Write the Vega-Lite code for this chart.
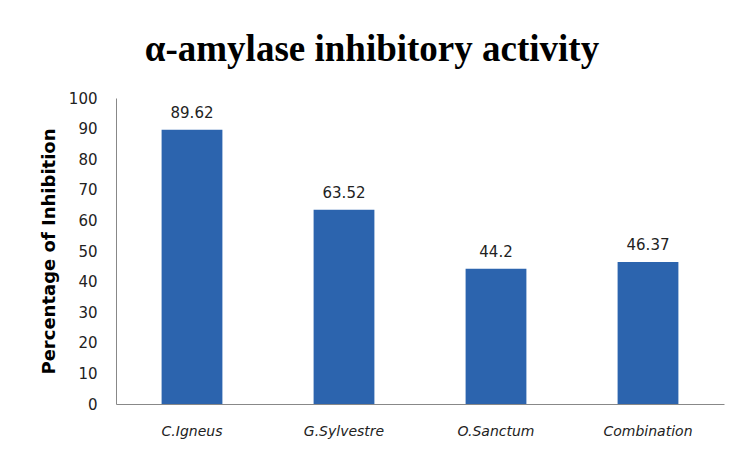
{
  "$schema": "https://vega.github.io/schema/vega-lite/v6.json",
  "autosize": "none",
  "width": 608,
  "height": 306,
  "padding": {"left": 116, "top": 98, "right": 18, "bottom": 48},
  "background": "white",
  "title": {
    "text": "α-amylase inhibitory activity",
    "font": "Liberation Serif",
    "fontSize": 37,
    "fontWeight": "bold",
    "color": "#000000",
    "anchor": "middle",
    "dx": -48,
    "offset": 22
  },
  "data": {
    "values": [
      {"sample": "C.Igneus", "inhibition": 89.62, "label": "89.62"},
      {"sample": "G.Sylvestre", "inhibition": 63.52, "label": "63.52"},
      {"sample": "O.Sanctum", "inhibition": 44.2, "label": "44.2"},
      {"sample": "Combination", "inhibition": 46.37, "label": "46.37"}
    ]
  },
  "config": {"view": {"stroke": null}},
  "encoding": {
    "x": {
      "field": "sample",
      "type": "nominal",
      "sort": null,
      "scale": {"paddingInner": 0.6, "paddingOuter": 0.3},
      "axis": {
        "title": null,
        "labelAngle": 0,
        "ticks": false,
        "domainColor": "#888888",
        "labelFont": "DejaVu Sans",
        "labelFontStyle": "italic",
        "labelFontSize": 14,
        "labelColor": "#222222",
        "labelPadding": 20
      }
    },
    "y": {
      "field": "inhibition",
      "type": "quantitative",
      "scale": {"domain": [0, 100]},
      "axis": {
        "title": "Percentage of Inhibition",
        "titleFont": "DejaVu Sans",
        "titleFontSize": 18,
        "titleFontWeight": "bold",
        "titleColor": "#000000",
        "titlePadding": 10,
        "values": [0, 10, 20, 30, 40, 50, 60, 70, 80, 90, 100],
        "grid": false,
        "ticks": false,
        "domainColor": "#888888",
        "labelFont": "DejaVu Sans",
        "labelFontSize": 15,
        "labelColor": "#222222",
        "labelPadding": 19
      }
    }
  },
  "layer": [
    {"mark": {"type": "bar", "color": "#2C64AE"}},
    {
      "mark": {"type": "text", "dy": -17, "font": "DejaVu Sans", "fontSize": 15, "color": "#222222"},
      "encoding": {"text": {"field": "label"}}
    }
  ]
}
